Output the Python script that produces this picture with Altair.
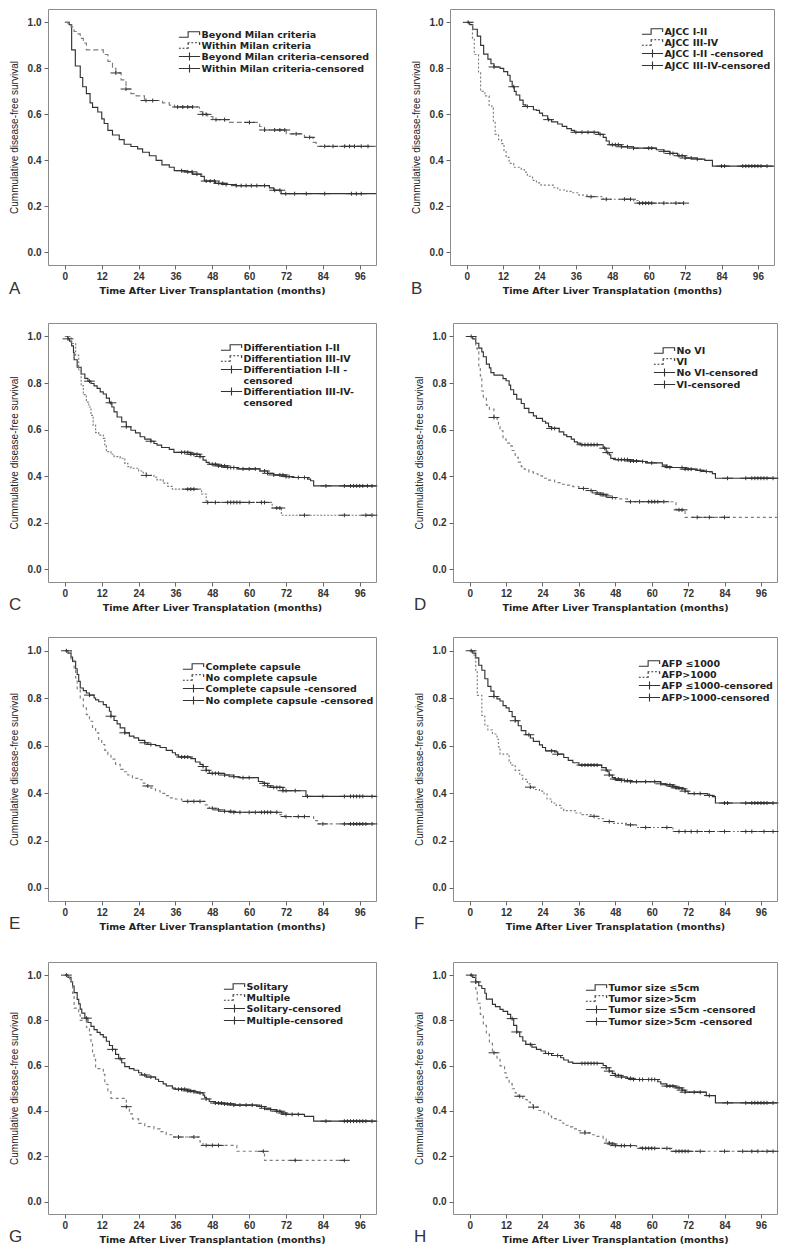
import altair as alt
import pandas as pd

FONT = "Liberation Sans"
FONT2 = "DejaVu Sans"
X_TICKS = [0, 12, 24, 36, 48, 60, 72, 84, 96]
Y_TICKS = [0.0, 0.2, 0.4, 0.6, 0.8, 1.0]
Y_TITLE = "Cummulative disease-free survival"
XT_1 = "Time After Liver Transplantation (months)"
XT_2 = "Time After Liver Transplatation (months)"

# ---------------- Panel A ----------------
A_LABELS = ["Beyond Milan criteria", "Within Milan criteria",
            "Beyond Milan criteria-censored", "Within Milan criteria-censored"]
A_T1 = [0, 1.4, 2.2, 3.4, 5, 5.8, 7, 8.2, 9, 10.7, 12, 12.8, 14, 15.5, 17.7, 19.3, 21.5, 23.7, 25.3, 27.5,
        29.7, 31.6, 34, 35.6, 39, 41.6, 44.3, 45.4, 49, 52, 55.8, 66.6, 68, 70.4, 102]
A_S1 = [1.0, 0.99, 0.88, 0.81, 0.76, 0.72, 0.69, 0.65, 0.63, 0.61, 0.58, 0.56, 0.53, 0.51, 0.49, 0.47, 0.46,
        0.45, 0.435, 0.42, 0.40, 0.38, 0.37, 0.355, 0.35, 0.34, 0.33, 0.31, 0.30, 0.295, 0.29, 0.28, 0.27,
        0.255, 0.255]
A_C1 = [38, 40, 41.4, 43, 46, 47.3, 48.7, 50.1, 51.4, 52.5, 55.8, 57.4, 59, 60.7, 62.5, 65, 68.3, 70, 71.9,
        74.8, 78.6, 84.6, 93.3, 94.9, 96.5]
A_T2 = [0, 1, 2, 3, 4, 5, 6, 7, 12.5, 14, 15.5, 16.6, 18.3, 19.9, 21.5, 23.2, 25.9, 31.8, 34, 35.7, 43.8,
        44.9, 46.5, 48.2, 53.6, 63.4, 65, 72.1, 78, 80.8, 81.8, 102]
A_S2 = [1.0, 0.99, 0.98, 0.96, 0.95, 0.93, 0.91, 0.88, 0.86, 0.83, 0.80, 0.78, 0.75, 0.71, 0.69, 0.68, 0.66,
        0.65, 0.64, 0.632, 0.612, 0.60, 0.59, 0.577, 0.565, 0.547, 0.532, 0.515, 0.50, 0.478, 0.461, 0.461]
A_C2 = [16.6, 19.9, 26.4, 28.6, 36.7, 38.4, 40, 41.6, 44.9, 46, 49.2, 52, 60.1, 65, 68.3, 70, 71.6, 75.3,
        79.7, 84.6, 87.3, 91.1, 92.7, 94.3, 96.5, 98.7]

# ---------------- Panel B ----------------
B_LABELS = ["AJCC I-II", "AJCC III-IV", "AJCC I-II -censored", "AJCC III-IV-censored"]
B_T1 = [0, 1, 2, 3.5, 4.6, 5.6, 7, 8, 9, 11, 12.2, 13.5, 14.3, 15, 15.7, 16.3, 17.5, 18.6, 19.5, 22,
        23, 24, 25, 26.7, 28, 30, 31.5, 33, 34.5, 35.5, 43.5, 45, 46, 47, 51, 55, 62.5, 65, 67, 69.5,
        72, 76, 78.5, 81, 102]
B_S1 = [1.0, 0.99, 0.97, 0.94, 0.90, 0.862, 0.84, 0.82, 0.806, 0.80, 0.786, 0.77, 0.744, 0.72, 0.70, 0.684,
        0.662, 0.641, 0.634, 0.62, 0.617, 0.605, 0.594, 0.577, 0.567, 0.558, 0.548, 0.538, 0.53, 0.522,
        0.513, 0.50, 0.484, 0.468, 0.459, 0.453, 0.446, 0.439, 0.43, 0.42, 0.41, 0.405, 0.40, 0.375, 0.375]
B_C1 = [0.5, 9, 15.5, 20, 27, 36, 38, 40, 42, 44, 48, 49, 50, 51, 53, 55, 60, 61, 65, 67, 68, 70, 71, 72,
        74, 76, 84, 85, 91, 92, 93, 94, 95, 96, 97, 99]
B_T2 = [0, 1.9, 2.5, 3.9, 4.6, 6, 7.4, 8.3, 8.8, 9.4, 10.5, 11.5, 12.3, 13, 14, 15.5, 18, 19, 20, 21.7,
        23, 24.5, 28.5, 30, 33, 35, 37, 40, 45, 55, 56.5, 72]
B_S2 = [1.0, 0.93, 0.86, 0.78, 0.70, 0.68, 0.64, 0.627, 0.57, 0.513, 0.49, 0.473, 0.442, 0.413, 0.387, 0.37,
        0.36, 0.349, 0.331, 0.313, 0.302, 0.292, 0.281, 0.271, 0.265, 0.259, 0.249, 0.242, 0.231, 0.225,
        0.214, 0.214]
B_C2 = [41, 46, 52, 54, 57, 58, 59, 60, 61, 65, 69, 71.5]

# ---------------- Panel C ----------------
C_LABELS = ["Differentiation I-II", "Differentiation III-IV",
            "Differentiation I-II -|censored", "Differentiation III-IV-|censored"]
C_T1 = [0, 1, 1.5, 2.2, 2.8, 3, 4, 5.3, 6.5, 7.5, 8.5, 9.5, 10.5, 11.5, 12.5, 13.5, 14.5, 15.3, 16, 17,
        18.5, 20, 21.5, 23, 24.5, 26, 28, 29, 30, 31.5, 34, 35.5, 41, 44, 45, 46, 47, 50, 53, 56,
        63.5, 66, 68, 72, 74, 79, 80, 81, 102]
C_S1 = [1.0, 0.99, 0.98, 0.96, 0.932, 0.90, 0.868, 0.839, 0.82, 0.808, 0.798, 0.788, 0.777, 0.762, 0.753,
        0.735, 0.715, 0.697, 0.676, 0.654, 0.633, 0.612, 0.597, 0.586, 0.569, 0.559, 0.55, 0.54, 0.533,
        0.523, 0.515, 0.502, 0.494, 0.484, 0.469, 0.459, 0.451, 0.444, 0.437, 0.431, 0.422, 0.412, 0.405,
        0.398, 0.394, 0.387, 0.38, 0.358, 0.358]
C_C1 = [1, 8, 15, 20, 28, 38, 39, 40, 41, 42, 43, 44, 48, 49, 50, 51, 52, 53, 54, 55, 58, 60, 62, 65, 66,
        68, 70, 71, 72, 73, 76, 78, 85, 91, 93, 94, 95, 96, 97, 98.5, 100]
C_T2 = [0, 2, 3.5, 4.5, 5.3, 6, 7, 7.8, 8.5, 9.2, 10, 11, 12.5, 13, 13.5, 15, 16, 18, 19.5, 20.5,
        21.5, 24, 25.5, 26.5, 29, 30, 32, 33.5, 35, 44.5, 46, 67.5, 70.5, 102]
C_S2 = [1.0, 0.97, 0.92, 0.853, 0.789, 0.75, 0.718, 0.697, 0.661, 0.619, 0.587, 0.576, 0.562, 0.531, 0.505,
        0.494, 0.484, 0.477, 0.455, 0.441, 0.434, 0.422, 0.414, 0.403, 0.395, 0.384, 0.37, 0.356, 0.344,
        0.323, 0.287, 0.263, 0.232, 0.232]
C_C2 = [26.5, 40, 41, 42, 46.5, 49, 53, 54, 55, 56, 57, 60, 64, 65, 69, 70, 78, 91, 98, 100]

# ---------------- Panel D ----------------
D_LABELS = ["No VI", "VI", "No VI-censored", "VI-censored"]
D_T1 = [0, 1, 2, 3, 4, 4.5, 5.5, 6.5, 7, 8, 11, 12, 13, 13.5, 14.5, 15.5, 17, 18, 19.5, 21,
        22, 24, 25, 26, 27, 29.5, 31, 32, 33.5, 34.5, 35.5, 36.5, 44, 45, 46, 46.5, 48, 53, 56, 58,
        63.5, 65, 66, 71, 75, 77, 79, 80, 81, 102]
D_S1 = [1.0, 0.99, 0.971, 0.95, 0.934, 0.913, 0.881, 0.865, 0.845, 0.834, 0.819, 0.81, 0.791, 0.771, 0.751,
        0.731, 0.712, 0.691, 0.673, 0.659, 0.648, 0.636, 0.628, 0.613, 0.605, 0.59, 0.577, 0.57, 0.559,
        0.547, 0.542, 0.535, 0.52, 0.501, 0.491, 0.476, 0.471, 0.465, 0.463, 0.457, 0.447, 0.441, 0.437,
        0.43, 0.425, 0.42, 0.418, 0.411, 0.391, 0.391]
D_C1 = [0.5, 27, 28, 37, 38, 39, 40, 41, 42, 44.5, 45.5, 49, 50, 51, 52, 53, 54, 55, 57, 60, 65, 66, 70,
        71, 72, 73, 76, 78, 85, 91, 93, 94, 95, 96, 97, 98, 100]
D_T2 = [0, 2, 2.5, 3, 3.5, 4, 4.5, 5.5, 6.5, 8, 9, 9.5, 10, 11, 12, 13.5, 14, 15, 16, 17,
        18, 19.5, 21, 22.5, 24, 26, 28, 30, 32, 34, 36, 38, 40.5, 43, 45, 46, 48, 52, 68, 71, 102]
D_S2 = [1.0, 0.95, 0.934, 0.874, 0.831, 0.766, 0.738, 0.705, 0.688, 0.652, 0.645, 0.623, 0.595, 0.559,
        0.542, 0.53, 0.51, 0.481, 0.46, 0.441, 0.43, 0.418, 0.41, 0.401, 0.391, 0.383, 0.372, 0.365, 0.361,
        0.355, 0.347, 0.338, 0.328, 0.322, 0.315, 0.308, 0.302, 0.29, 0.255, 0.223, 0.223]
D_C2 = [8, 37.5, 40, 42, 43, 44, 45, 47, 53, 56, 59, 60, 61, 62, 64, 69, 70, 75, 79, 84]

# ---------------- Panel E ----------------
E_LABELS = ["Complete capsule", "No complete capsule",
            "Complete capsule -censored", "No complete capsule -censored"]
E_T1 = [0, 1, 2, 2.5, 3.5, 4, 4.5, 5, 6, 7, 8, 9.5, 10, 11, 12.5, 13.5, 14.5, 15, 16, 17,
        18, 19.5, 21, 22.5, 24, 26, 27, 29.5, 31, 33, 35, 36, 37, 41, 42.5, 44, 45, 46, 47, 52,
        55, 57, 63, 64.5, 66, 67, 71, 78.5, 102]
E_S1 = [1.0, 0.99, 0.973, 0.955, 0.924, 0.90, 0.871, 0.843, 0.832, 0.822, 0.813, 0.801, 0.793, 0.785,
        0.773, 0.762, 0.745, 0.724, 0.706, 0.692, 0.675, 0.654, 0.64, 0.633, 0.622, 0.612, 0.605, 0.60,
        0.592, 0.58, 0.57, 0.561, 0.552, 0.545, 0.531, 0.521, 0.512, 0.496, 0.483, 0.476, 0.469, 0.465,
        0.449, 0.441, 0.431, 0.424, 0.41, 0.386, 0.386]
E_C1 = [0.5, 8, 15, 19.5, 26, 28, 38, 39, 40, 45, 46, 48, 49, 50, 52, 55, 58, 60, 65, 66, 68, 69, 70, 71,
        72, 75, 79, 84, 91, 93, 94, 95, 96, 97, 100]
E_T2 = [0, 2, 3, 3.5, 4, 5, 6, 7, 8, 9, 10, 11, 12, 13, 14, 15, 16.5, 18, 19, 20.5,
        22, 24, 25.5, 26.5, 28, 29.5, 31, 32.5, 34, 36, 38, 39, 45.5, 47, 49, 52, 55, 70, 71.5, 81,
        82.5, 102]
E_S2 = [1.0, 0.96, 0.92, 0.885, 0.84, 0.80, 0.759, 0.731, 0.703, 0.672, 0.654, 0.626, 0.605, 0.58, 0.562,
        0.543, 0.521, 0.50, 0.49, 0.476, 0.462, 0.456, 0.442, 0.43, 0.421, 0.41, 0.399, 0.389, 0.38, 0.375,
        0.371, 0.365, 0.35, 0.336, 0.329, 0.323, 0.319, 0.309, 0.301, 0.284, 0.27, 0.27]
E_C2 = [27, 40, 42, 44, 48, 50, 52, 54, 55, 57, 60, 62, 64, 65, 66, 67, 69, 72, 76, 78, 84, 91, 93, 94,
        95, 96, 97, 98, 100]

# ---------------- Panel F ----------------
F_LABELS = ["AFP \u22641000", "AFP>1000", "AFP \u22641000-censored", "AFP>1000-censored"]
F_T1 = [0, 1, 2, 3, 4, 5, 6, 7, 8, 9, 10, 11, 12, 13, 14, 15, 16, 17, 18.5, 20,
        21, 23, 24, 25, 28, 29, 31, 32.5, 34, 36, 43.5, 45, 45.5, 46, 47, 48, 50, 53, 63, 64.5,
        67, 68, 70, 71, 72, 78.5, 80, 81, 102]
F_S1 = [1.0, 0.99, 0.97, 0.939, 0.918, 0.882, 0.85, 0.83, 0.807, 0.797, 0.788, 0.769, 0.759, 0.744, 0.722,
        0.705, 0.684, 0.663, 0.646, 0.632, 0.618, 0.603, 0.592, 0.578, 0.574, 0.564, 0.55, 0.538, 0.528,
        0.518, 0.507, 0.497, 0.49, 0.476, 0.465, 0.459, 0.453, 0.448, 0.439, 0.435, 0.428, 0.422, 0.418,
        0.408, 0.398, 0.39, 0.385, 0.358, 0.358]
F_C1 = [0.5, 8, 15, 19.5, 27, 29, 37, 38, 39, 40, 41, 42, 45, 46, 48, 49, 50, 51, 52, 53, 55, 58, 61, 63,
        65, 66, 67, 68, 69, 70, 71, 74, 76, 79, 84, 85, 91, 93, 94, 95, 96, 97, 98, 100]
F_T2 = [0, 1.5, 2, 2.5, 4, 5, 6, 7.5, 9, 9.5, 10, 13, 13.5, 15, 16.5, 17.5, 19, 20, 21, 23,
        24.5, 25.5, 27, 28.5, 30, 31, 35, 37, 40, 42, 44, 47, 52, 55, 67, 102]
F_S2 = [1.0, 0.97, 0.911, 0.812, 0.727, 0.684, 0.666, 0.649, 0.627, 0.595, 0.564, 0.535, 0.518, 0.496,
        0.475, 0.458, 0.439, 0.425, 0.415, 0.408, 0.397, 0.375, 0.358, 0.348, 0.337, 0.326, 0.316, 0.309,
        0.302, 0.292, 0.28, 0.272, 0.266, 0.255, 0.238, 0.238]
F_C2 = [20, 41, 46, 53, 58, 65, 69, 71, 73, 75, 79, 84, 91, 93, 97, 100]

# ---------------- Panel G ----------------
G_LABELS = ["Solitary", "Multiple", "Solitary-censored", "Multiple-censored"]
G_T1 = [0, 1, 2, 2.5, 3, 4, 4.5, 5, 5.5, 6.5, 7.5, 8.5, 9.5, 10.5, 11.5, 12.5, 13.5, 14.5, 15.5, 16.5,
        17.5, 18.5, 19.5, 21, 22.5, 24, 25, 26.5, 29.5, 30.5, 32, 33, 35, 36, 40, 42, 43, 45, 45.5, 46,
        47, 49, 52, 55, 63.5, 65, 67, 69, 70.5, 72, 78, 81, 102]
G_S1 = [1.0, 0.99, 0.971, 0.952, 0.923, 0.893, 0.873, 0.85, 0.832, 0.81, 0.791, 0.774, 0.759, 0.747, 0.737,
        0.726, 0.708, 0.689, 0.672, 0.65, 0.631, 0.613, 0.596, 0.587, 0.58, 0.569, 0.559, 0.55, 0.54, 0.53,
        0.52, 0.511, 0.501, 0.496, 0.489, 0.485, 0.48, 0.47, 0.46, 0.453, 0.442, 0.435, 0.431, 0.426, 0.42,
        0.412, 0.406, 0.399, 0.391, 0.385, 0.376, 0.355, 0.355]
G_C1 = [0.5, 7, 15.5, 18, 26, 28, 37, 38, 39, 40, 41, 42, 44, 46, 49, 50, 51, 52, 53, 54, 55, 57, 59, 61,
        64, 65, 67, 69, 70, 71, 72, 74, 76, 85, 91, 92, 93, 94, 95, 96, 97, 98, 100]
G_T2 = [0, 1.5, 2.5, 3, 4.5, 5, 7, 8, 8.5, 9, 9.5, 10, 12.5, 13, 14, 15, 20, 21, 22, 24,
        26, 29, 31, 33, 35, 44, 45, 56, 65, 91]
G_S2 = [1.0, 0.97, 0.92, 0.854, 0.825, 0.80, 0.77, 0.737, 0.701, 0.655, 0.628, 0.587, 0.562, 0.518, 0.489,
        0.456, 0.419, 0.387, 0.365, 0.345, 0.331, 0.321, 0.309, 0.295, 0.285, 0.263, 0.248, 0.222, 0.182,
        0.182]
G_C2 = [20, 37, 42, 46, 48, 50, 64.6, 75, 91]

# ---------------- Panel H ----------------
H_LABELS = ["Tumor size \u22645cm", "Tumor size>5cm",
            "Tumor size \u22645cm -censored", "Tumor size>5cm -censored"]
H_T1 = [0, 1, 2, 3, 4, 5, 5.5, 7.5, 8.5, 10, 11, 12.5, 13.5, 14.5, 15.5, 16.5, 17.5, 18.5, 20.5, 22,
        23.5, 25, 27, 30, 31, 32.5, 34, 44, 45, 46, 47, 48, 50, 52, 54, 62, 63, 65, 68, 70,
        71, 78, 81, 102]
H_S1 = [1.0, 0.99, 0.97, 0.953, 0.941, 0.92, 0.894, 0.871, 0.861, 0.849, 0.84, 0.827, 0.808, 0.778, 0.749,
        0.728, 0.709, 0.694, 0.682, 0.672, 0.665, 0.654, 0.645, 0.635, 0.625, 0.616, 0.61, 0.601, 0.591,
        0.576, 0.566, 0.557, 0.55, 0.544, 0.539, 0.529, 0.52, 0.51, 0.502, 0.492, 0.483, 0.468, 0.436, 0.436]
H_C1 = [0.5, 2, 14, 15.5, 20, 26, 29, 37, 38, 39, 40, 41, 42, 45, 46, 48, 49, 50, 53, 54, 56, 57, 59, 60,
        61, 65, 66, 67, 69, 70, 71, 74, 76, 79, 85, 91, 93, 94, 95, 96, 97, 98, 100]
H_T2 = [0, 2, 2.5, 3.5, 4.5, 5.5, 6.5, 7.5, 9, 10, 11.5, 12, 13, 14, 15, 16, 17.5, 19, 20, 21,
        22.5, 24.5, 26, 27, 28.5, 30, 31, 33, 34, 36, 38, 40, 42, 44, 45, 46, 47, 48, 55, 57, 66, 102]
H_S2 = [1.0, 0.938, 0.876, 0.827, 0.778, 0.739, 0.699, 0.657, 0.628, 0.599, 0.569, 0.547, 0.521, 0.498,
        0.48, 0.465, 0.45, 0.439, 0.428, 0.417, 0.402, 0.391, 0.377, 0.366, 0.359, 0.347, 0.337, 0.33,
        0.321, 0.313, 0.303, 0.295, 0.288, 0.278, 0.266, 0.258, 0.254, 0.247, 0.239, 0.235, 0.222, 0.222]
H_C2 = [8, 16.5, 21, 38, 46, 47, 48, 50, 51, 53, 57, 58, 59, 60, 61, 65, 68, 69, 70, 71, 72, 76, 84, 90,
        93, 95, 98, 100]

# ---------------- legend symbols (SVG paths) ----------------
SYM_STEP = "M-2.3,0.6L-0.3,0.6L-0.3,-0.6L2.2,-0.6L2.2,0.1"
SYM_STEP_DASH = ("M-2.3,0.6L-1.9,0.6M-1.5,0.6L-1.1,0.6M-0.7,0.6L-0.3,0.6L-0.3,0.3"
                 "M-0.3,-0.1L-0.3,-0.6L0,-0.6M0.4,-0.6L0.8,-0.6M1.2,-0.6L1.6,-0.6"
                 "M2.0,-0.6L2.2,-0.6L2.2,-0.1")
SYM_CENS = "M-2.3,0L2.3,0M0,-0.85L0,0.85"


def surv_at(T, S, t):
    v = S[0]
    for ti, si in zip(T, S):
        if ti <= t:
            v = si
    return v


def panel(letter, T1, S1, C1, T2, S2, C2, labels, dash, xtitle, lx, ly, w, h, dy):
    assert len(T1) == len(S1) and len(T2) == len(S2)
    lines_df = pd.DataFrame({"t": T1 + T2, "s": S1 + S2,
                             "grp": ["a"] * len(T1) + ["b"] * len(T2)})
    cens_df = pd.DataFrame({
        "t": C1 + C2,
        "s": [surv_at(T1, S1, c) for c in C1] + [surv_at(T2, S2, c) for c in C2],
        "key": [labels[2]] * len(C1) + [labels[3]] * len(C2)})
    x = alt.X("t:Q", scale=alt.Scale(domain=[-5.5, 101.3], nice=False, zero=False),
              axis=alt.Axis(values=X_TICKS, title=xtitle, format="d"))
    y = alt.Y("s:Q", scale=alt.Scale(domain=[-0.055, 1.058], nice=False, zero=False),
              axis=alt.Axis(values=Y_TICKS, format=".1f", title=Y_TITLE))
    line = alt.Chart(lines_df).mark_line(interpolate="step-after", clip=True, strokeWidth=1.15).encode(
        x=x, y=y,
        color=alt.Color("grp:N", scale=alt.Scale(domain=["a", "b"], range=["#333333", "#7d7d7d"]), legend=None),
        strokeDash=alt.StrokeDash("grp:N", scale=alt.Scale(domain=["a", "b"], range=[[1, 0], dash]), legend=None),
    )
    pts = alt.Chart(cens_df).mark_point(filled=False, size=22, strokeWidth=1, color="#333333", opacity=1).encode(
        x=x, y=y,
        shape=alt.Shape("key:N",
                        scale=alt.Scale(domain=labels, range=[SYM_STEP, SYM_STEP_DASH, SYM_CENS, SYM_CENS]),
                        legend=alt.Legend(title=None, orient="none", legendX=lx, legendY=ly, rowPadding=-2.5,
                                          labelExpr="split(datum.label, '|')")),
    )
    return alt.layer(line, pts).properties(
        width=w, height=h,
        title=alt.TitleParams(letter, orient="bottom", anchor="start", frame="bounds", dx=0, dy=dy,
                              fontSize=17, fontWeight="normal", font=FONT, color="#333333", offset=0),
    )


WL, WR = 328, 324
pA = panel("A", A_T1, A_S1, A_C1, A_T2, A_S2, A_C2, A_LABELS, [5, 3], XT_1, 136, 20, WL, 256, -14)
pB = panel("B", B_T1, B_S1, B_C1, B_T2, B_S2, B_C2, B_LABELS, [2, 2], XT_2, 197, 17, WR, 256, -14)
pC = panel("C", C_T1, C_S1, C_C1, C_T2, C_S2, C_C2, C_LABELS, [2, 1.5], XT_2, 178, 19, WL, 259, -15)
pD = panel("D", D_T1, D_S1, D_C1, D_T2, D_S2, D_C2, D_LABELS, [3, 3], XT_1, 206, 22, WR, 259, -15)
pE = panel("E", E_T1, E_S1, E_C1, E_T2, E_S2, E_C2, E_LABELS, [3, 3], XT_1, 140, 24, WL, 264, -15)
pF = panel("F", F_T1, F_S1, F_C1, F_T2, F_S2, F_C2, F_LABELS, [2, 2], XT_2, 191, 21, WR, 264, -15)
pG = panel("G", G_T1, G_S1, G_C1, G_T2, G_S2, G_C2, G_LABELS, [3, 3], XT_1, 181, 19, WL, 252, -15)
pH = panel("H", H_T1, H_S1, H_C1, H_T2, H_S2, H_C2, H_LABELS, [3, 3], XT_1, 138, 20, WR, 252, -15)

RES = dict(shape="independent", strokeDash="independent", color="independent")


def row(a, b):
    return alt.hconcat(a, b, spacing=33).resolve_scale(**RES)


top2 = alt.vconcat(row(pA, pB), row(pC, pD), spacing=25).resolve_scale(**RES)
top3 = alt.vconcat(top2, row(pE, pF), spacing=23).resolve_scale(**RES)
chart = alt.vconcat(top3, row(pG, pH), spacing=29).resolve_scale(**RES).properties(
    padding={"left": 0, "top": 0, "right": 4, "bottom": 0}
).configure_view(
    stroke="#8c8c8c", strokeWidth=1
).configure_axis(
    grid=False, domain=False, ticks=True, tickColor="#666666", tickSize=4,
    labelFont=FONT, labelFontSize=10, labelFontWeight="bold", labelColor="#333333",
    titleFont=FONT, titleColor="#222222"
).configure_axisX(
    labelPadding=2, titlePadding=4, titleFont=FONT2, titleFontSize=9.5, titleFontWeight="bold"
).configure_axisY(
    labelPadding=3, titlePadding=8, titleFontSize=10, titleFontWeight="normal"
).configure_legend(
    padding=0, labelFont=FONT2, labelFontSize=9.5, labelFontWeight="bold",
    labelColor="#222222", symbolSize=85, symbolStrokeWidth=1.1, labelOffset=6.5, labelLimit=400
)

chart.save("out.html", embed_options={"renderer": "svg", "actions": False})
